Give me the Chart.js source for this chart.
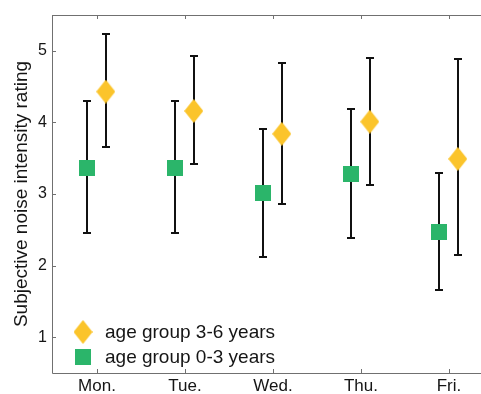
<!DOCTYPE html>
<html>
<head>
<meta charset="utf-8">
<script src="https://cdn.jsdelivr.net/npm/chart.js@4.4.1/dist/chart.umd.min.js"></script>
<style>
  html, body { margin: 0; padding: 0; background: #fff; }
</style>
</head>
<body>
<canvas id="myChart" width="481" height="394"></canvas>
<script>
const days = ['Mon.', 'Tue.', 'Wed.', 'Thu.', 'Fri.'];
const yTicks = [1, 2, 3, 4, 5];

// age group 3-6 years
const olderMean = [4.43, 4.16, 3.84, 4.01, 3.49];
const olderLow  = [3.66, 3.42, 2.86, 3.13, 2.15];
const olderHigh = [5.23, 4.93, 4.83, 4.90, 4.89];

// age group 0-3 years
const youngerMean = [3.37, 3.37, 3.02, 3.28, 2.47];
const youngerLow  = [2.46, 2.46, 2.12, 2.38, 1.66];
const youngerHigh = [4.30, 4.30, 3.91, 4.19, 3.29];

const FONT = "'Liberation Sans', Arial, Helvetica, sans-serif";
const TEXT = '#151515';

function diamondImg(w, h, color) {
  var c = document.createElement('canvas');
  c.width = w; c.height = h;
  var g = c.getContext('2d');
  g.fillStyle = color;
  g.beginPath();
  g.moveTo(w / 2, 0);
  g.lineTo(w, h / 2);
  g.lineTo(w / 2, h);
  g.lineTo(0, h / 2);
  g.closePath();
  g.fill();
  return c;
}

function squareImg(s, color) {
  var c = document.createElement('canvas');
  c.width = s; c.height = s;
  var g = c.getContext('2d');
  g.fillStyle = color;
  g.fillRect(0, 0, s, s);
  return c;
}

const diamond = diamondImg(19, 24, '#fbc42b');
const square = squareImg(16, '#2bb56a');

function points(mean, low, high, shift) {
  return mean.map(function (v, i) {
    return { x: i + 1 + shift, y: v, low: low[i], high: high[i] };
  });
}

const errorBars = {
  id: 'errorBars',
  beforeDatasetsDraw(chart) {
    const ctx = chart.ctx, x = chart.scales.x, y = chart.scales.y;
    ctx.save();
    ctx.strokeStyle = '#111';
    ctx.lineWidth = 2;
    chart.data.datasets.forEach(function (ds) {
      ds.data.forEach(function (p) {
        const px = Math.round(x.getPixelForValue(p.x));
        const top = Math.round(y.getPixelForValue(p.high));
        const bot = Math.round(y.getPixelForValue(p.low));
        ctx.beginPath();
        ctx.moveTo(px, top); ctx.lineTo(px, bot);
        ctx.moveTo(px - 4, top); ctx.lineTo(px + 4, top);
        ctx.moveTo(px - 4, bot); ctx.lineTo(px + 4, bot);
        ctx.stroke();
      });
    });
    ctx.restore();
  }
};

const frame = {
  id: 'frame',
  afterDraw(chart) {
    const ctx = chart.ctx, a = chart.chartArea;
    const x = chart.scales.x, y = chart.scales.y;
    ctx.save();
    ctx.strokeStyle = '#707070';
    ctx.lineWidth = 1;
    ctx.beginPath();
    ctx.moveTo(a.left + 0.5, a.top + 0.5);
    ctx.lineTo(a.right, a.top + 0.5);
    ctx.moveTo(a.left + 0.5, a.top);
    ctx.lineTo(a.left + 0.5, a.bottom + 0.5);
    ctx.lineTo(a.right, a.bottom + 0.5);
    x.ticks.forEach(function (t) {
      const px = Math.round(x.getPixelForValue(t.value)) + 0.5;
      ctx.moveTo(px, a.top); ctx.lineTo(px, a.top + 4);
      ctx.moveTo(px, a.bottom); ctx.lineTo(px, a.bottom - 4);
    });
    y.ticks.forEach(function (t) {
      const py = Math.round(y.getPixelForValue(t.value)) + 0.5;
      ctx.moveTo(a.left, py); ctx.lineTo(a.left + 4, py);
    });
    ctx.stroke();

    // legend, inside the plot at the lower left
    const rows = [chart.data.datasets[0], chart.data.datasets[1]];
    const ys = [332, 357];
    ctx.font = '19px ' + FONT;
    ctx.fillStyle = TEXT;
    ctx.textBaseline = 'middle';
    rows.forEach(function (ds, i) {
      const img = ds.pointStyle;
      ctx.drawImage(img, 83 - img.width / 2, ys[i] - img.height / 2);
      ctx.fillText(ds.label, 105, ys[i] + 1);
    });
    ctx.restore();
  }
};

const ctx = document.getElementById('myChart').getContext('2d');
const myChart = new Chart(ctx, {
  type: 'scatter',
  data: {
    datasets: [{
      label: 'age group 3-6 years',
      data: points(olderMean, olderLow, olderHigh, 0.1),
      pointStyle: diamond,
      pointRadius: 10,
      pointHoverRadius: 10
    }, {
      label: 'age group 0-3 years',
      data: points(youngerMean, youngerLow, youngerHigh, -0.11),
      pointStyle: square,
      pointRadius: 10,
      pointHoverRadius: 10
    }]
  },
  options: {
    responsive: false,
    animation: false,
    devicePixelRatio: 1,
    layout: { autoPadding: false, padding: { top: 15, right: 0, bottom: 0, left: 0 } },
    scales: {
      x: {
        type: 'linear',
        min: 0.489,
        max: 5.364,
        afterBuildTicks: function (s) { s.ticks = days.map(function (d, i) { return { value: i + 1 }; }); },
        afterFit: function (s) { s.height = 21; s.paddingLeft = 0; s.paddingRight = 0; },
        grid: { display: false, drawTicks: false },
        border: { display: false },
        ticks: {
          padding: 3,
          color: TEXT,
          font: { family: FONT, size: 17 },
          callback: function (v) { return days[v - 1]; }
        }
      },
      y: {
        min: 0.5,
        max: 5.5,
        afterBuildTicks: function (s) { s.ticks = yTicks.map(function (v) { return { value: v }; }); },
        afterFit: function (s) { s.width = 52; s.paddingTop = 0; s.paddingBottom = 0; },
        grid: { display: false, drawTicks: false },
        border: { display: false },
        title: {
          display: true,
          text: 'Subjective noise intensity rating',
          color: TEXT,
          font: { family: FONT, size: 19 },
          padding: { top: 10, bottom: 0 }
        },
        ticks: {
          padding: 5,
          color: TEXT,
          font: { family: FONT, size: 16 }
        }
      }
    },
    plugins: {
      legend: { display: false },
      tooltip: { enabled: false }
    }
  },
  plugins: [errorBars, frame]
});
</script>
</body>
</html>
